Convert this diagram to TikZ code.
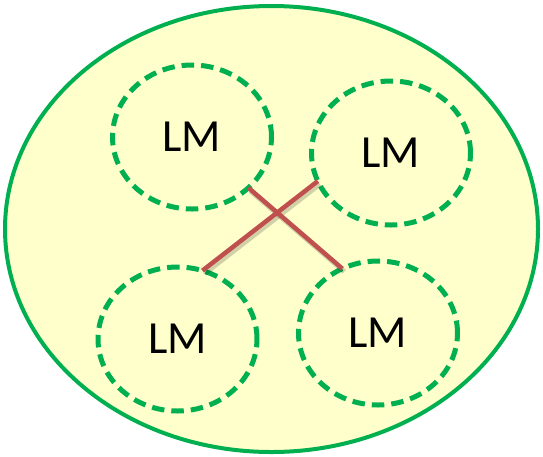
\documentclass[tikz,border=0pt]{standalone}
\usepackage{fontspec}
\setmainfont{Carlito}
\usetikzlibrary{shapes.geometric}
\definecolor{lmgreen}{HTML}{00B050}
\definecolor{lmfill}{HTML}{FFFFCC}
\definecolor{lmred}{HTML}{C0504D}
\begin{document}
\begin{tikzpicture}[x=1pt,y=-1pt,
  outerbox/.style={ellipse, draw=lmgreen, fill=lmfill, line width=4pt,
    minimum width=533pt, minimum height=446pt, inner sep=0pt, outer sep=0pt},
  lmbox/.style={ellipse, draw=lmgreen, line width=5pt, dash pattern=on 12.5pt off 7pt,
    minimum width=159pt, minimum height=144pt, inner sep=0pt, outer sep=0pt,
    font=\fontsize{46}{50}\selectfont},
  link/.style={draw=lmred, line width=4.5pt},
  linkshadow/.style={draw=black, opacity=0.18, line width=5pt},
]
\useasboundingbox (0,0) rectangle (543,456);
\node[outerbox] (world) at (271.5,229) {};
\node[lmbox] (tl) at (192,137) {LM};
\node[lmbox] (tr) at (391,153) {LM};
\node[lmbox] (bl) at (177.5,339) {LM};
\node[lmbox] (br) at (378,333) {LM};
% shadows
\draw[linkshadow] ([shift={(2pt,-3pt)}]tl.-42) -- ([shift={(2pt,-3pt)}]br.119);
\draw[linkshadow] ([shift={(2pt,-3pt)}]tr.201) -- ([shift={(2pt,-3pt)}]bl.70);
% links
\draw[link] (tl.-42) -- (br.119);
\draw[link] (tr.201) -- (bl.70);
\end{tikzpicture}
\end{document}
